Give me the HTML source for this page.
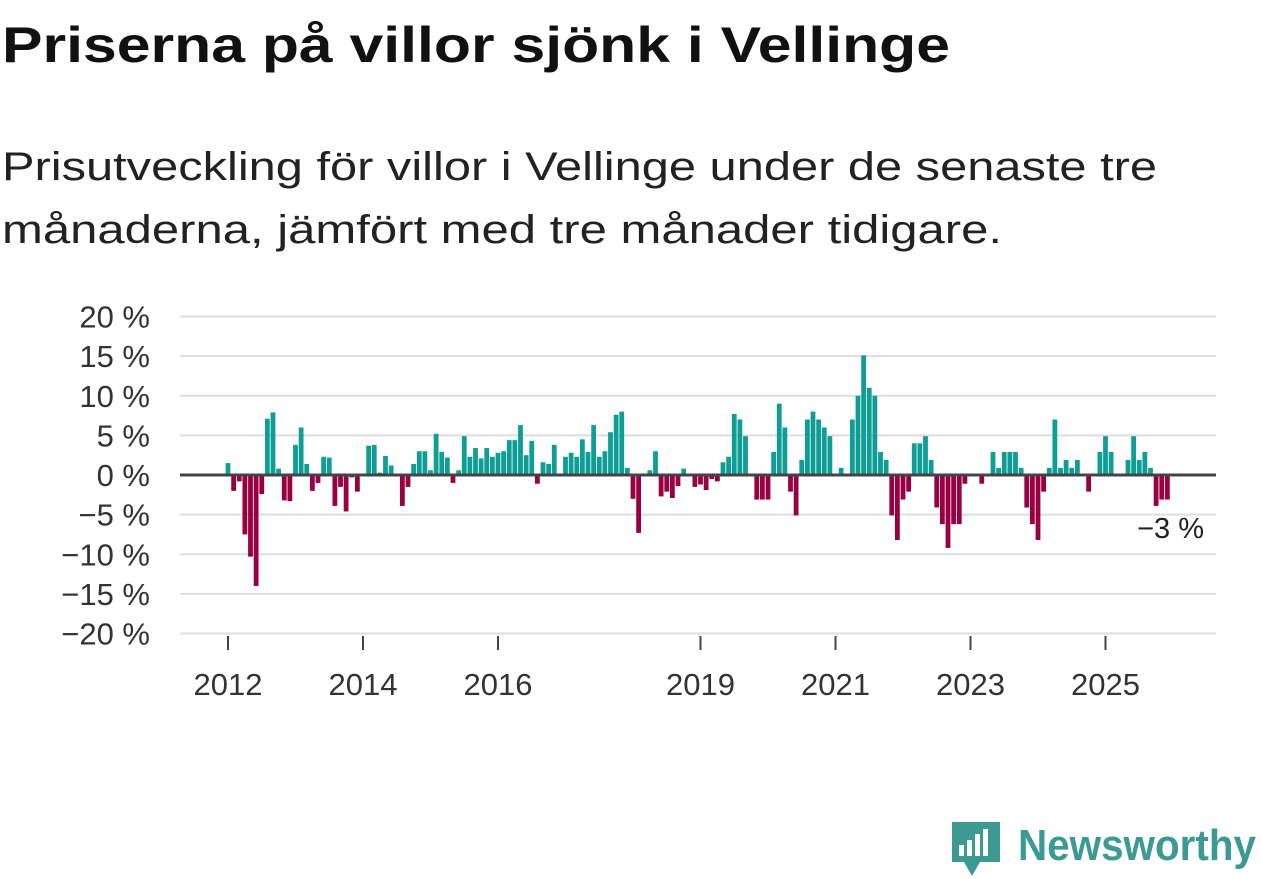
<!DOCTYPE html>
<html><head><meta charset="utf-8"><style>
body{margin:0;background:#fff;width:1262px;height:879px;overflow:hidden}
svg{display:block;font-family:"Liberation Sans",sans-serif}
</style></head><body>
<svg width="1262" height="879">
<text x="2" y="62" font-size="50" font-weight="bold" fill="#111" textLength="948" lengthAdjust="spacingAndGlyphs">Priserna på villor sjönk i Vellinge</text>
<text x="2" y="180" font-size="40" fill="#222" textLength="1155" lengthAdjust="spacingAndGlyphs">Prisutveckling för villor i Vellinge under de senaste tre</text>
<text x="2" y="243" font-size="40" fill="#222" textLength="1000" lengthAdjust="spacingAndGlyphs">månaderna, jämfört med tre månader tidigare.</text>
<g id="grid"></g><g id="bars"></g><g id="axes"></g>
<text x="1204" y="538" font-size="29" fill="#222" text-anchor="end">−3 %</text>
<g>
<path d="M952 822 h48 v40 h-20 l-8 14 l-8 -14 h-12 z" fill="#3d9a92"/>
<rect x="959" y="845" width="5" height="11" fill="#fff"/><rect x="967" y="840" width="5" height="16" fill="#fff"/><rect x="975" y="834" width="5" height="22" fill="#fff"/><rect x="983" y="829" width="5" height="27" fill="#fff"/>
<text x="1018" y="860" font-size="44" font-weight="bold" fill="#3d9a92" textLength="238" lengthAdjust="spacingAndGlyphs">Newsworthy</text>
</g>
</svg>
<script>
const values=[1.5,-2.0,-0.8,-7.5,-10.3,-14,-2.4,7.1,7.9,0.8,-3.2,-3.3,3.8,6.0,1.4,-2.0,-1.0,2.3,2.2,-3.9,-1.5,-4.6,-0.3,-2.1,0,3.7,3.8,0.3,2.4,1.2,0,-3.9,-1.5,1.4,3.0,3.0,0.6,5.2,2.9,2.2,-1.0,0.6,4.9,2.3,
3.4,2.1,3.4,2.3,2.8,3.0,4.4,4.4,6.3,2.5,4.3,-1.1,1.6,1.4,3.8,0,2.3,2.8,2.3,4.5,2.9,6.3,2.3,3.0,5.4,7.6,8.0,0.9,-3.0,-7.3,0,0.6,3.0,-2.7,-2.1,-2.9,-1.4,0.8,0,-1.5,-1.2,-1.9,
-0.5,-0.8,1.6,2.3,7.7,7.0,4.9,0,-3.1,-3.1,-3.1,2.9,9.0,6.0,-2.1,-5.1,1.9,7.0,8.0,7.0,6.0,4.9,0,0.9,0,7.0,10.0,15.1,11.0,10.0,2.9,1.9,-5.1,-8.2,-3.1,-2.1,4.0,4.0,4.9,1.9,-4.1,-6.2,-9.2,
-6.2,-6.2,-1.1,0,0,-1.1,0,2.9,0.9,2.9,2.9,2.9,0.9,-4.1,-6.2,-8.2,-2.1,0.9,7.0,0.9,1.9,0.9,1.9,0,-2.1,0,2.9,4.9,2.9,0,0,1.9,4.9,1.9,2.9,0.9,-3.9,-3.1,-3.1];
const yTicks=[20,15,10,5,0,-5,-10,-15,-20];
const yTickLabels=["20 %","15 %","10 %","5 %","0 %","−5 %","−10 %","−15 %","−20 %"];
const xTickYears=[2012,2014,2016,2019,2021,2023,2025];
const startYear=2012;
const NS="http://www.w3.org/2000/svg";
const y=v=>475-v*7.925;
const x=i=>228+i*5.625;
function mk(tag,attrs,parent){const e=document.createElementNS(NS,tag);for(const k in attrs)e.setAttribute(k,attrs[k]);document.getElementById(parent).appendChild(e);return e;}
yTicks.forEach((t,k)=>{
 if(t!==0){const l=mk('line',{x1:180,x2:1216,y1:y(t),y2:y(t),stroke:'#dedede','stroke-width':2},'grid');
 
 }
 const tx=mk('text',{x:150,y:y(t)+11,'font-size':31,fill:'#333','text-anchor':'end'},'axes');
 tx.textContent=yTickLabels[k];
 
 
});
values.forEach((v,i)=>{
 if(v===0)return;
 const top=v>0?y(v):y(0), h=Math.abs(y(v)-y(0));
 const r=mk('rect',{x:x(i)-2.4,y:top,width:4.8,height:h,fill:v>0?'#0e9e95':'#990041'},'bars');
 
 
});
const z=mk('line',{x1:180,x2:1216,y1:y(0),y2:y(0),stroke:'#444','stroke-width':3},'axes');


xTickYears.forEach(yr=>{
 const xi=x((yr-startYear)*12);
 const tk=mk('line',{x1:xi,x2:xi,y1:636,y2:650,stroke:'#444','stroke-width':2},'axes');
 
 
 const tx=mk('text',{x:xi,y:695,'font-size':31,fill:'#333','text-anchor':'middle'},'axes');
 tx.textContent=yr;
 
 
});
</script>
</body></html>
